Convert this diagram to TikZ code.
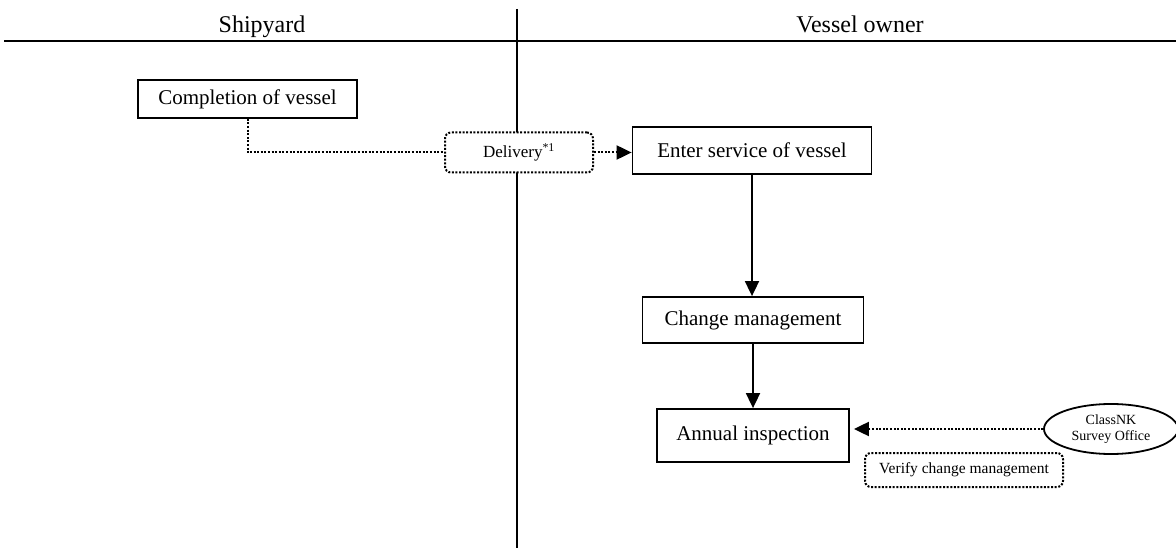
\documentclass[tikz,border=0pt]{standalone}
\usepackage{fontspec}
\setmainfont{Liberation Serif}
\usetikzlibrary{arrows.meta,shapes.geometric,positioning}
\tikzset{
  box/.style={draw,line width=1.8pt,inner sep=0pt,font=\fontsize{21}{24}\selectfont},
  dotbox/.style={draw,line width=2pt,dash pattern=on 2pt off 1.6pt,rounded corners=6pt,inner sep=0pt},
  dotline/.style={line width=2pt,dash pattern=on 2pt off 1.6pt},
  solidarrow/.style={line width=1.8pt,-{Triangle[length=15pt,width=14pt]}},
  dotarrow/.style={dotline,-{Triangle[length=15pt,width=14pt]}},
  header/.style={font=\fontsize{24}{28}\selectfont,anchor=base},
  rule/.style={line width=2.6pt}
}
\begin{document}
\begin{tikzpicture}[x=1pt,y=-1pt]
\useasboundingbox (0,0) rectangle (1176,548);
% swimlane lines
\coordinate (hl) at (4,41);
\coordinate (hr) at (1176,41);
\coordinate (vt) at (517,9);
\coordinate (vb) at (517,548);
\draw[rule] (hl) -- (hr);
\draw[line width=2pt] (vt) -- (vb);
\node[header] (ship) at (262,33) {Shipyard};
\node[header] (owner) at (860,33) {Vessel owner};
% nodes
\node[box,minimum width=219pt,minimum height=38pt] (comp) at (247.5,99) {Completion of vessel};
\node[dotbox,fill=white,minimum width=148pt,minimum height=40pt,font=\fontsize{17}{20}\selectfont] (del) at (519,152.5) {Delivery\textsuperscript{*1}};
\node[box,minimum width=239pt,minimum height=47pt] (enter) at (752,150.5) {Enter service of vessel};
\node[box,minimum width=221pt,minimum height=46pt] (change) at (753,320) {Change management};
\node[box,minimum width=192pt,minimum height=53pt] (annual) at (753,435.5) {Annual inspection};
\node[ellipse,draw,line width=1.8pt,minimum width=134pt,minimum height=50pt,inner sep=0pt,align=center,font=\fontsize{14}{16}\selectfont] (cls) at (1111,429) {ClassNK\\Survey Office};
\node[dotbox,minimum width=198pt,minimum height=34pt,font=\fontsize{15.5}{18}\selectfont] (verify) at (964,470) {Verify change management};
% connectors
\draw[dotline] (comp.south) |- (del.west);
\draw[dotarrow] (del.east) -- (enter.west |- del.east);
\draw[solidarrow] (enter.south) -- (enter.south |- change.north);
\draw[solidarrow] (change.south) -- (change.south |- annual.north);
\draw[dotarrow] (cls.west) -- ([xshift=4pt]annual.east |- cls.west);
\end{tikzpicture}
\end{document}
